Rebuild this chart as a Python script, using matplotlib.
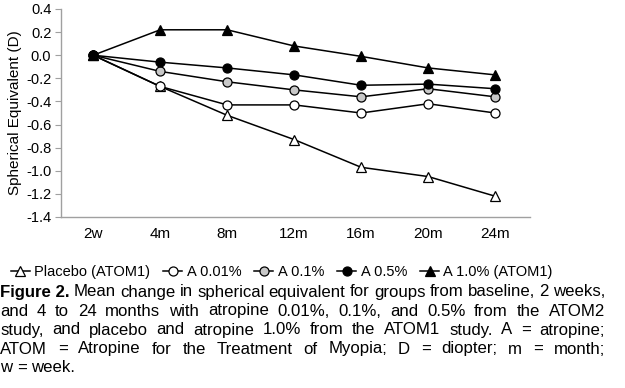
import numpy as np
import matplotlib
matplotlib.use('Agg')
import matplotlib.pyplot as plt

plt.rcParams['font.family'] = ['Liberation Sans', 'DejaVu Sans']

# 数据
time_labels = ['2w', '4m', '8m', '12m', '16m', '20m', '24m']
placebo = [0.0, -0.27, -0.52, -0.73, -0.97, -1.05, -1.22]
a001 = [0.0, -0.27, -0.43, -0.43, -0.50, -0.42, -0.50]
a01 = [0.0, -0.14, -0.23, -0.30, -0.36, -0.29, -0.36]
a05 = [0.0, -0.06, -0.11, -0.17, -0.26, -0.25, -0.29]
a10 = [0.0, 0.22, 0.22, 0.08, -0.01, -0.11, -0.17]
y_ticks = [-1.4, -1.2, -1.0, -0.8, -0.6, -0.4, -0.2, 0.0, 0.2, 0.4]

series = [
    ('Placebo (ATOM1)', placebo, '^', 'white'),
    ('A 0.01%', a001, 'o', 'white'),
    ('A 0.1%', a01, 'o', '#c8c8c8'),
    ('A 0.5%', a05, 'o', 'black'),
    ('A 1.0% (ATOM1)', a10, '^', 'black'),
]

W, H = 625, 388
fig = plt.figure(figsize=(W / 100, H / 100), dpi=100)
ax = fig.add_axes([61 / W, 1 - 217 / H, (530 - 61) / W, (217 - 9) / H])

x = np.arange(len(time_labels))
handles = []
for name, vals, mk, fc in series:
    h, = ax.plot(x, vals, color='black', lw=1.1, marker=mk, markersize=6.5,
                 markerfacecolor=fc, markeredgecolor='black', markeredgewidth=0.9,
                 label=name, clip_on=False)
    handles.append(h)

ax.set_xlim(-0.48, 6.52)
ax.set_ylim(-1.4, 0.4)
ax.set_yticks(y_ticks)
ax.set_yticklabels([f'{v:.1f}' for v in y_ticks])
ax.set_xticks(x)
ax.set_xticklabels(time_labels)
for s in ['top', 'right']:
    ax.spines[s].set_visible(False)
for s in ['left', 'bottom']:
    ax.spines[s].set_color('#a0a0a0')
    ax.spines[s].set_linewidth(1.0)
ax.tick_params(axis='y', length=4, color='#a0a0a0', labelsize=10.5, pad=3)
ax.tick_params(axis='x', length=0, labelsize=11, pad=7)
ax.set_ylabel('Spherical Equivalent (D)', fontsize=11, labelpad=3)

leg = fig.legend(handles=handles, loc='center left', bbox_to_anchor=(5 / W, 1 - 272 / H),
                 ncol=5, frameon=False, handlelength=1.3, handletextpad=0.3,
                 columnspacing=0.9, borderaxespad=0, prop={'size': 10.5})

# 图注（两端对齐）
lines = [
    [('Figure 2.', 'bold')] + [(w, 'normal') for w in
        'Mean change in spherical equivalent for groups from baseline, 2 weeks,'.split()],
    [(w, 'normal') for w in 'and 4 to 24 months with atropine 0.01%, 0.1%, and 0.5% from the ATOM2'.split()],
    [(w, 'normal') for w in 'study, and placebo and atropine 1.0% from the ATOM1 study. A = atropine;'.split()],
    [(w, 'normal') for w in 'ATOM = Atropine for the Treatment of Myopia; D = diopter; m = month;'.split()],
    [(w, 'normal') for w in 'w = week.'.split()],
]
line_y = [292, 311, 330, 349, 368]
x0, x1 = 0, 605
fig.canvas.draw()
renderer = fig.canvas.get_renderer()

# 选字号让第一行自然宽度约等于版心宽度
probe = fig.text(0, 0, 'Figure 2. Mean change in spherical equivalent for groups from baseline, 2 weeks,',
                 fontsize=10)
fs = 10 * (x1 - x0) / probe.get_window_extent(renderer).width
probe.remove()
fs = min(fs, 12.5)

for i, (words, yy) in enumerate(zip(lines, line_y)):
    texts = []
    for w, wt in words:
        t = fig.text(0, 1 - yy / H, w, fontsize=fs, fontweight=wt,
                     va='center', ha='left')
        texts.append(t)
    widths = [t.get_window_extent(renderer).width for t in texts]
    if i < len(lines) - 1:
        gap = (x1 - x0 - sum(widths)) / (len(words) - 1)
    else:
        sp = fig.text(0, 0, 'a a', fontsize=fs)
        a = fig.text(0, 0, 'aa', fontsize=fs)
        gap = sp.get_window_extent(renderer).width - a.get_window_extent(renderer).width
        sp.remove()
        a.remove()
    cx = x0
    for t, wd in zip(texts, widths):
        t.set_x(cx / W)
        cx += wd + gap

fig.savefig('out.png', dpi=100)
